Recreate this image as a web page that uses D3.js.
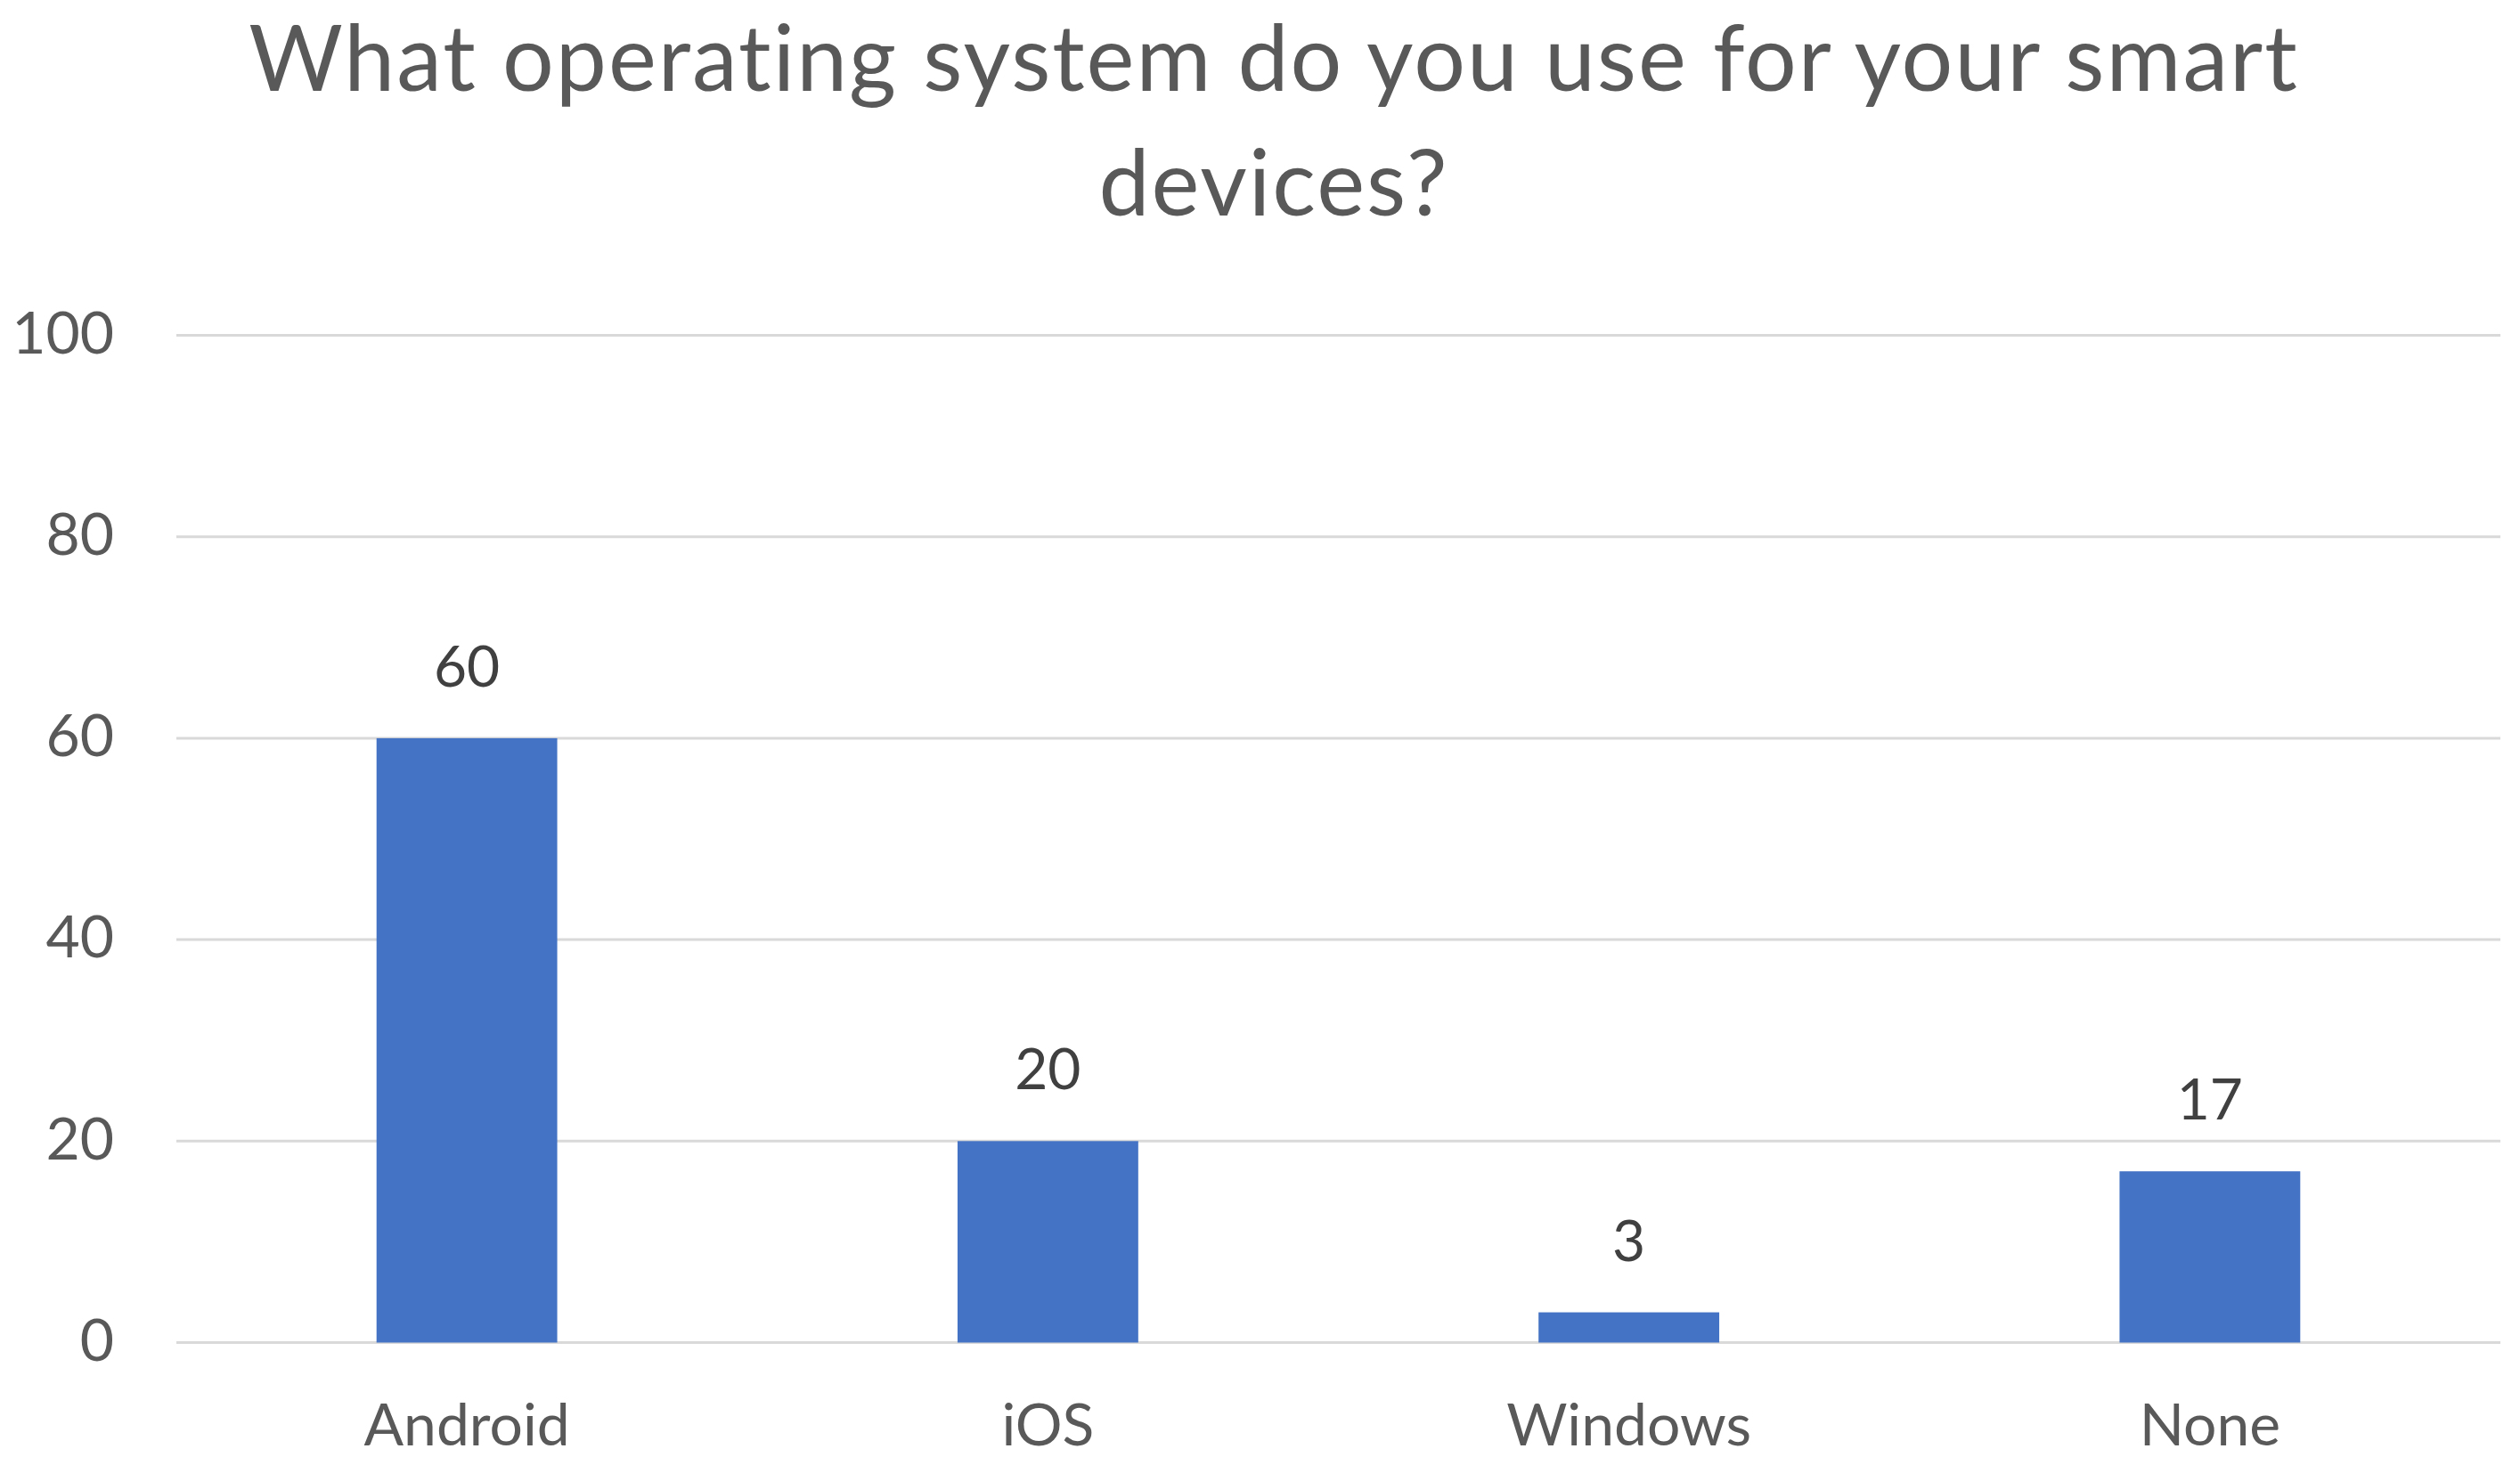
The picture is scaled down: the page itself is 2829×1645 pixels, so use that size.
<!DOCTYPE html>
<html>
<head>
<meta charset="utf-8">
<script src="https://cdn.jsdelivr.net/npm/d3@7"></script>
<style>
  body { margin: 0; background: #fff; }
  text { font-family: Lato, "Open Sans", sans-serif; font-variant-ligatures: none; }
</style>
</head>
<body>
<svg width="2829" height="1645"></svg>
<script>
var categories = ["Android", "iOS", "Windows", "None"]
var values = [60, 20, 3, 17]
var yTicks = [0, 20, 40, 60, 80, 100]
var titleLines = ["What operating system do you use for your smart", "devices?"]

var svg = d3.select("svg"),
    margin = { top: 376.5, right: 22, bottom: 137.5, left: 198 },
    width = svg.attr("width") - margin.left - margin.right,
    height = svg.attr("height") - margin.top - margin.bottom,
    g = svg.append("g").attr("transform", "translate(" + margin.left + "," + margin.top + ")");

svg.append("rect").attr("width", 2829).attr("height", 1645).attr("fill", "#fff").lower()

var x = d3.scaleBand()
    .domain(categories)
    .range([0, width])
    .paddingInner(0.689)
    .paddingOuter(0.3445)

var y = d3.scaleLinear()
    .domain([0, 100])
    .range([height, 0])

// gridlines
g.append("g")
    .selectAll("line")
    .data(yTicks)
    .enter().append("line")
    .attr("x1", 0)
    .attr("x2", width)
    .attr("y1", function (d) { return y(d) })
    .attr("y2", function (d) { return y(d) })
    .attr("stroke", "#d9d9d9")
    .attr("stroke-width", 3)

// y axis labels
var yAxis = g.append("g")
    .call(d3.axisLeft(y).tickValues(yTicks).tickSize(0).tickPadding(70))
yAxis.select(".domain").remove()
yAxis.selectAll("text")
    .attr("fill", "#595959")
    .attr("font-size", "66px")
    .attr("dy", "0.3em")

// x axis labels
var xAxis = g.append("g")
    .attr("transform", "translate(0," + height + ")")
    .call(d3.axisBottom(x).tickSize(0).tickPadding(115))
xAxis.select(".domain").remove()
xAxis.selectAll("text")
    .attr("fill", "#595959")
    .attr("font-size", "66px")
    .attr("dy", "0")

// bars
g.selectAll(".bar")
    .data(values)
    .enter().append("rect")
    .attr("class", "bar")
    .attr("x", function (d, i) { return x(categories[i]) })
    .attr("y", function (d) { return y(d) })
    .attr("width", x.bandwidth())
    .attr("height", function (d) { return height - y(d) })
    .attr("fill", "#4472c4")

// value labels
g.selectAll(".val")
    .data(values)
    .enter().append("text")
    .attr("class", "val")
    .attr("text-anchor", "middle")
    .attr("x", function (d, i) { return x(categories[i]) + x.bandwidth() / 2 })
    .attr("y", function (d) { return y(d) - 58 })
    .attr("fill", "#404040")
    .attr("font-size", "64px")
    .text(function (d) { return d })

// title
svg.append("g")
    .selectAll("text")
    .data(titleLines)
    .enter().append("text")
    .attr("text-anchor", "middle")
    .attr("x", 1430)
    .attr("y", function (d, i) { return 102 + i * 140 })
    .attr("fill", "#595959")
    .attr("font-size", "102px")
    .attr("letter-spacing", "2px")
    .text(function (d) { return d })
</script>
</body>
</html>
